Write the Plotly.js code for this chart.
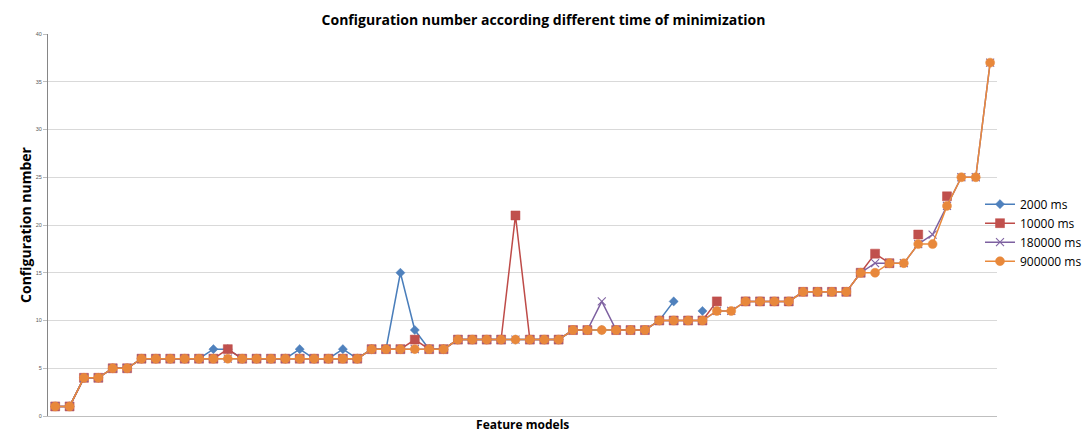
<!DOCTYPE html>
<html>
<head>
<meta charset="utf-8">
<script src="https://cdn.plot.ly/plotly-3.0.1.min.js"></script>
<style>html,body{margin:0;padding:0;background:#fff;}#chart{width:1087px;height:439px;}</style>
</head>
<body>
<div id="chart"></div>
<script>
// Feature models (66 categories, no tick labels shown)
const models = Array.from({length: 66}, (_, i) => 'FM' + (i + 1));

const seriesNames = ['2000 ms', '10000 ms', '180000 ms', '900000 ms'];

const ms2000 = [1,1,4,4,5,5,6,6,6,6,6,7,7,6,6,6,6,7,6,6,7,6,7,7,15,9,7,7,8,8,8,8,8,8,8,8,9,9,9,9,9,9,10,12,null,11,null,null,null,null,null,null,null,null,null,null,null,null,null,null,null,null,null,null,null,null];
const ms10000 = [1,1,4,4,5,5,6,6,6,6,6,6,7,6,6,6,6,6,6,6,6,6,7,7,7,8,7,7,8,8,8,8,21,8,8,8,9,9,null,9,9,9,10,10,10,10,12,null,12,12,12,12,13,13,13,13,15,17,16,null,19,null,23,null,null,null];
const ms180000 = [1,1,4,4,5,5,6,6,6,6,6,6,6,6,6,6,6,6,6,6,6,6,7,7,7,7,7,7,8,8,8,8,8,8,8,8,9,9,12,9,9,9,10,10,10,10,11,11,12,12,12,12,13,13,13,13,15,16,16,16,18,19,22,25,25,37];
const ms900000 = [1,1,4,4,5,5,6,6,6,6,6,6,6,6,6,6,6,6,6,6,6,6,7,7,7,7,7,7,8,8,8,8,8,8,8,8,9,9,9,9,9,9,10,10,10,10,11,11,12,12,12,12,13,13,13,13,15,15,16,16,18,18,22,25,25,37];

const yTicks = [0,5,10,15,20,25,30,35,40];

const traces = [
  {x: models, y: ms2000, name: seriesNames[0], type: 'scatter', mode: 'lines+markers',
   line: {color: '#4A7EBB', width: 1.5},
   marker: {symbol: 'diamond', size: 7, color: '#4F81BD', line: {color: '#4A7EBB', width: 0.5}}},
  {x: models, y: ms10000, name: seriesNames[1], type: 'scatter', mode: 'lines+markers',
   line: {color: '#BE4B48', width: 1.5},
   marker: {symbol: 'square', size: 9, color: '#C0504D', line: {color: '#BE4B48', width: 0.5}}},
  {x: models, y: ms180000, name: seriesNames[2], type: 'scatter', mode: 'lines+markers',
   line: {color: '#7D60A0', width: 1.5},
   marker: {symbol: 'x-thin', size: 8, color: '#8064A2', line: {color: '#8064A2', width: 1.1}}},
  {x: models, y: ms900000, name: seriesNames[3], type: 'scatter', mode: 'lines+markers',
   line: {color: '#E98A3C', width: 1.5},
   marker: {symbol: 'circle', size: 9, color: '#E8883B', line: {color: '#E98A3C', width: 0.5}}}
];

const plotLeft = 48, plotRight = 1001, W = 1087;
const paperW = W - plotLeft;

const layout = {
  width: W, height: 439,
  margin: {l: plotLeft, r: 0, t: 34, b: 23},
  paper_bgcolor: '#ffffff', plot_bgcolor: '#ffffff',
  font: {family: 'Liberation Sans, Arial, sans-serif', color: '#000'},
  title: {text: '<b>Configuration number according different time of minimization</b>',
          font: {size: 14, family: 'Open Sans, Liberation Sans, sans-serif', color: '#000'},
          x: 0.5, xref: 'container', xanchor: 'center', y: 0.955, yanchor: 'middle'},
  xaxis: {type: 'category', range: [-0.5, 65.5], domain: [0, (plotRight - plotLeft) / paperW],
          showticklabels: false, ticks: '',
          showgrid: false, zeroline: false, showline: true, linecolor: '#BFBFBF', linewidth: 1,
          title: {text: '<b>Feature models</b>', standoff: 4,
                  font: {size: 12, family: 'Open Sans, Liberation Sans, sans-serif', color: '#000'}}},
  yaxis: {range: [0, 40], tickvals: yTicks, ticktext: yTicks.map(String),
          tickfont: {size: 5.5, color: '#595959'}, ticks: 'outside', ticklen: 4, tickcolor: '#BFBFBF',
          showgrid: true, gridcolor: '#D9D9D9', gridwidth: 1, zeroline: false,
          showline: true, linecolor: '#868686', linewidth: 1,
          title: {text: '<b>Configuration number</b>', standoff: 0,
                  font: {size: 14, family: 'Open Sans, Liberation Sans, sans-serif', color: '#000'}}},
  legend: {x: (984 - plotLeft) / paperW, xanchor: 'left', y: 0.48, yanchor: 'middle',
           font: {size: 12, family: 'Open Sans, Liberation Sans, sans-serif', color: '#000'},
           tracegroupgap: 0, itemwidth: 30, bgcolor: 'rgba(0,0,0,0)'},
  showlegend: true
};

Plotly.newPlot('chart', traces, layout, {displayModeBar: false, staticPlot: true});
</script>
</body>
</html>
